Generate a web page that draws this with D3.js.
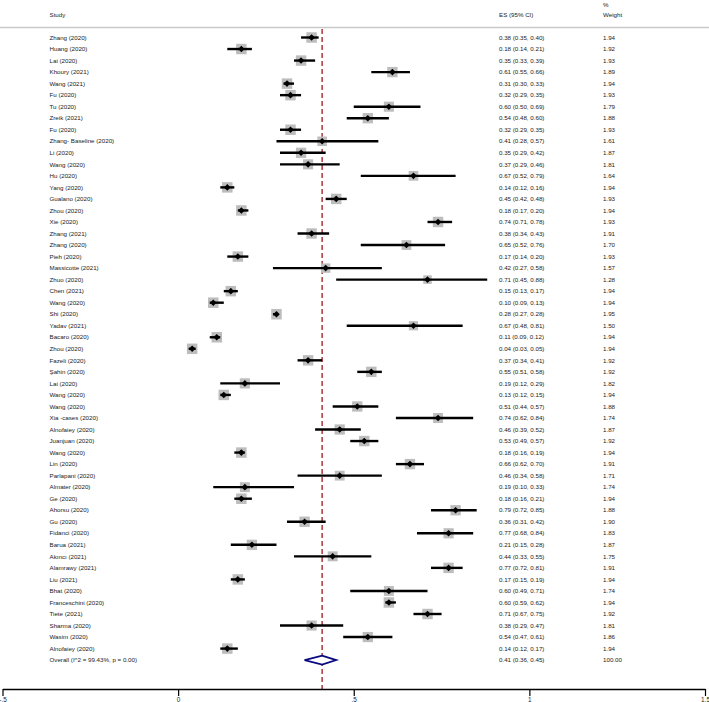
<!DOCTYPE html>
<html>
<head>
<meta charset="utf-8">
<script src="https://cdn.jsdelivr.net/npm/d3@7"></script>
<style>
  body { margin: 0; background: #fff; }
  text { font-family: "Liberation Sans", Arial, sans-serif; fill: #222; }
</style>
</head>
<body>
<div id="chart-area"></div>
<script>
// Study labels
const studies = ['Zhang (2020)', 'Huang (2020)', 'Lai (2020)', 'Khoury (2021)', 'Wang (2021)', 'Fu (2020)',
  'Tu (2020)', 'Zreik (2021)', 'Fu (2020)', 'Zhang- Baseline (2020)', 'Li (2020)', 'Wang (2020)', 'Hu (2020)',
  'Yang (2020)', 'Gualano (2020)', 'Zhou (2020)', 'Xie (2020)', 'Zhang (2021)', 'Zhang (2020)', 'Pieh (2020)',
  'Massicotte (2021)', 'Zhuo (2020)', 'Chen (2021)', 'Wang (2020)', 'Shi (2020)', 'Yadav (2021)', 'Bacaro (2020)',
  'Zhou (2020)', 'Fazeli (2020)', 'Şahin  (2020)', 'Lai (2020)', 'Wang (2020)', 'Wang (2020)', 'Xia -cases (2020)',
  'Alnofaiey (2020)', 'Juanjuan (2020)', 'Wang (2020)', 'Lin (2020)', 'Parlapani (2020)', 'Almater (2020)',
  'Ge (2020)', 'Ahorsu (2020)', 'Gu (2020)', 'Fidanci (2020)', 'Barua (2021)', 'Akıncı (2021)', 'Alamrawy (2021)',
  'Liu (2021)', 'Bhat (2020)', 'Franceschini (2020)', 'Tiete (2021)', 'Sharma (2020)', 'Wasim (2020)',
  'Alnofaiey (2020)'];

// Effect sizes and 95% CI
const es = [0.38, 0.18, 0.35, 0.61, 0.31, 0.32, 0.60, 0.54, 0.32, 0.41, 0.35, 0.37, 0.67, 0.14, 0.45, 0.18, 0.74,
  0.38, 0.65, 0.17, 0.42, 0.71, 0.15, 0.10, 0.28, 0.67, 0.11, 0.04, 0.37, 0.55, 0.19, 0.13, 0.51, 0.74, 0.46, 0.53,
  0.18, 0.66, 0.46, 0.19, 0.18, 0.79, 0.36, 0.77, 0.21, 0.44, 0.77, 0.17, 0.60, 0.60, 0.71, 0.38, 0.54, 0.14];
const lower = [0.35, 0.14, 0.33, 0.55, 0.30, 0.29, 0.50, 0.48, 0.29, 0.28, 0.29, 0.29, 0.52, 0.12, 0.42, 0.17, 0.71,
  0.34, 0.52, 0.14, 0.27, 0.45, 0.13, 0.09, 0.27, 0.48, 0.09, 0.03, 0.34, 0.51, 0.12, 0.12, 0.44, 0.62, 0.39, 0.49,
  0.16, 0.62, 0.34, 0.10, 0.16, 0.72, 0.31, 0.68, 0.15, 0.33, 0.72, 0.15, 0.49, 0.59, 0.67, 0.29, 0.47, 0.12];
const upper = [0.40, 0.21, 0.39, 0.66, 0.33, 0.35, 0.69, 0.60, 0.35, 0.57, 0.42, 0.46, 0.79, 0.16, 0.48, 0.20, 0.78,
  0.43, 0.76, 0.20, 0.58, 0.88, 0.17, 0.13, 0.28, 0.81, 0.12, 0.05, 0.41, 0.58, 0.29, 0.15, 0.57, 0.84, 0.52, 0.57,
  0.19, 0.70, 0.58, 0.33, 0.21, 0.85, 0.42, 0.84, 0.28, 0.55, 0.81, 0.19, 0.71, 0.62, 0.75, 0.47, 0.61, 0.17];
const weights = [1.94, 1.92, 1.93, 1.89, 1.94, 1.93, 1.79, 1.88, 1.93, 1.61, 1.87, 1.81, 1.64, 1.94, 1.93, 1.94, 1.93,
  1.91, 1.70, 1.93, 1.57, 1.28, 1.94, 1.94, 1.95, 1.50, 1.94, 1.94, 1.92, 1.92, 1.82, 1.94, 1.88, 1.74, 1.87, 1.92,
  1.94, 1.91, 1.71, 1.74, 1.94, 1.88, 1.90, 1.83, 1.87, 1.75, 1.91, 1.94, 1.74, 1.94, 1.92, 1.81, 1.86, 1.94];

// Pooled estimate
const overallLabel = 'Overall  (I^2 = 99.43%, p = 0.00)';
const overall = { es: 0.41, lo: 0.36, hi: 0.45, w: '100.00' };

// Axis ticks
const tickValues = [-0.5, 0, 0.5, 1, 1.5];
const tickLabels = ['-.5', '0', '.5', '1', '1.5'];

const width = 709;
const height = 702;

const svg = d3.select('#chart-area')
  .append('svg')
  .attr('width', width)
  .attr('height', height);

const f2 = d3.format('.2f');

// X Scale
const x = d3.scaleLinear()
  .domain([-0.5, 1.5])
  .range([2.5, 705]);

// Row Scale (studies + overall)
const y = d3.scalePoint()
  .domain(d3.range(studies.length + 1))
  .range([37.5, 37.5 + studies.length * 11.53]);

// Marker size from weight (area proportional)
const boxSide = d3.scaleSqrt()
  .domain([0, 1.95])
  .range([0, 10.5]);

const rows = studies.map((s, i) => ({
  study: s, es: es[i], lo: lower[i], hi: upper[i], w: weights[i], i: i
}));

const fontSize = '6.2px';
const colStudy = 49.5;
const colES = 499;
const colW = 603;

// Header
svg.append('text').attr('x', colW).attr('y', 7).attr('font-size', fontSize).text('%');
svg.append('text').attr('x', colStudy).attr('y', 17).attr('font-size', fontSize).text('Study');
svg.append('text').attr('x', colES).attr('y', 17).attr('font-size', fontSize).text('ES (95% CI)');
svg.append('text').attr('x', colW).attr('y', 17).attr('font-size', fontSize).text('Weight');

svg.append('line')
  .attr('x1', 0).attr('x2', width)
  .attr('y1', 27.5).attr('y2', 27.5)
  .attr('stroke', '#c9c9c9')
  .attr('stroke-width', 1.6);

const axisY = 689;

// Reference line at pooled estimate
svg.append('line')
  .attr('x1', x(overall.es)).attr('x2', x(overall.es))
  .attr('y1', 29).attr('y2', axisY)
  .attr('stroke', '#a52a2a')
  .attr('stroke-width', 1.4)
  .attr('stroke-dasharray', '5,3');

// Study rows
const g = svg.append('g');

g.selectAll('rect.box')
  .data(rows)
  .enter()
  .append('rect')
  .attr('class', 'box')
  .attr('x', d => x(d.es) - boxSide(d.w) / 2)
  .attr('y', d => y(d.i) - boxSide(d.w) / 2)
  .attr('width', d => boxSide(d.w))
  .attr('height', d => boxSide(d.w))
  .attr('fill', '#bdbdbd');

g.selectAll('line.ci')
  .data(rows)
  .enter()
  .append('line')
  .attr('class', 'ci')
  .attr('x1', d => x(d.lo))
  .attr('x2', d => x(d.hi))
  .attr('y1', d => y(d.i))
  .attr('y2', d => y(d.i))
  .attr('stroke', '#000')
  .attr('stroke-width', 2.4);

g.selectAll('path.pt')
  .data(rows)
  .enter()
  .append('path')
  .attr('class', 'pt')
  .attr('transform', d => 'translate(' + x(d.es) + ',' + y(d.i) + ')')
  .attr('d', 'M0,-3.3L3.3,0L0,3.3L-3.3,0Z')
  .attr('fill', '#000');

// Text columns
g.selectAll('text.study')
  .data(rows)
  .enter()
  .append('text')
  .attr('class', 'study')
  .attr('x', colStudy)
  .attr('y', d => y(d.i))
  .attr('dy', '0.35em')
  .attr('font-size', fontSize)
  .text(d => d.study);

g.selectAll('text.es')
  .data(rows)
  .enter()
  .append('text')
  .attr('class', 'es')
  .attr('x', colES)
  .attr('y', d => y(d.i))
  .attr('dy', '0.35em')
  .attr('font-size', fontSize)
  .text(d => f2(d.es) + ' (' + f2(d.lo) + ', ' + f2(d.hi) + ')');

g.selectAll('text.w')
  .data(rows)
  .enter()
  .append('text')
  .attr('class', 'w')
  .attr('x', colW)
  .attr('y', d => y(d.i))
  .attr('dy', '0.35em')
  .attr('font-size', fontSize)
  .text(d => f2(d.w));

// Overall row
const oy = y(studies.length);
svg.append('path')
  .attr('d', 'M' + x(overall.lo) + ',' + oy +
    'L' + x(overall.es) + ',' + (oy - 4.5) +
    'L' + x(overall.hi) + ',' + oy +
    'L' + x(overall.es) + ',' + (oy + 4.5) + 'Z')
  .attr('fill', '#fff')
  .attr('stroke', '#0a0a80')
  .attr('stroke-width', 1.8);

svg.append('text').attr('x', colStudy).attr('y', oy).attr('dy', '0.35em')
  .attr('font-size', fontSize).text(overallLabel);
svg.append('text').attr('x', colES).attr('y', oy).attr('dy', '0.35em')
  .attr('font-size', fontSize)
  .text(f2(overall.es) + ' (' + f2(overall.lo) + ', ' + f2(overall.hi) + ')');
svg.append('text').attr('x', colW).attr('y', oy).attr('dy', '0.35em')
  .attr('font-size', fontSize).text(overall.w);

// X Axis
const xAxisCall = d3.axisBottom(x)
  .tickValues(tickValues)
  .tickSize(7)
  .tickSizeOuter(0)
  .tickFormat((d, i) => tickLabels[i]);

const axisG = svg.append('g')
  .attr('transform', 'translate(0,' + axisY + ')')
  .call(xAxisCall);

axisG.select('.domain').attr('stroke', '#000').attr('stroke-width', 1.4);
axisG.selectAll('.tick line').attr('stroke', '#000').attr('stroke-width', 1.2);
axisG.selectAll('.tick text')
  .attr('font-family', '"Liberation Sans", Arial, sans-serif')
  .attr('font-size', '6.4px')
  .attr('fill', '#222')
  .attr('y', 8);
</script>
</body>
</html>
